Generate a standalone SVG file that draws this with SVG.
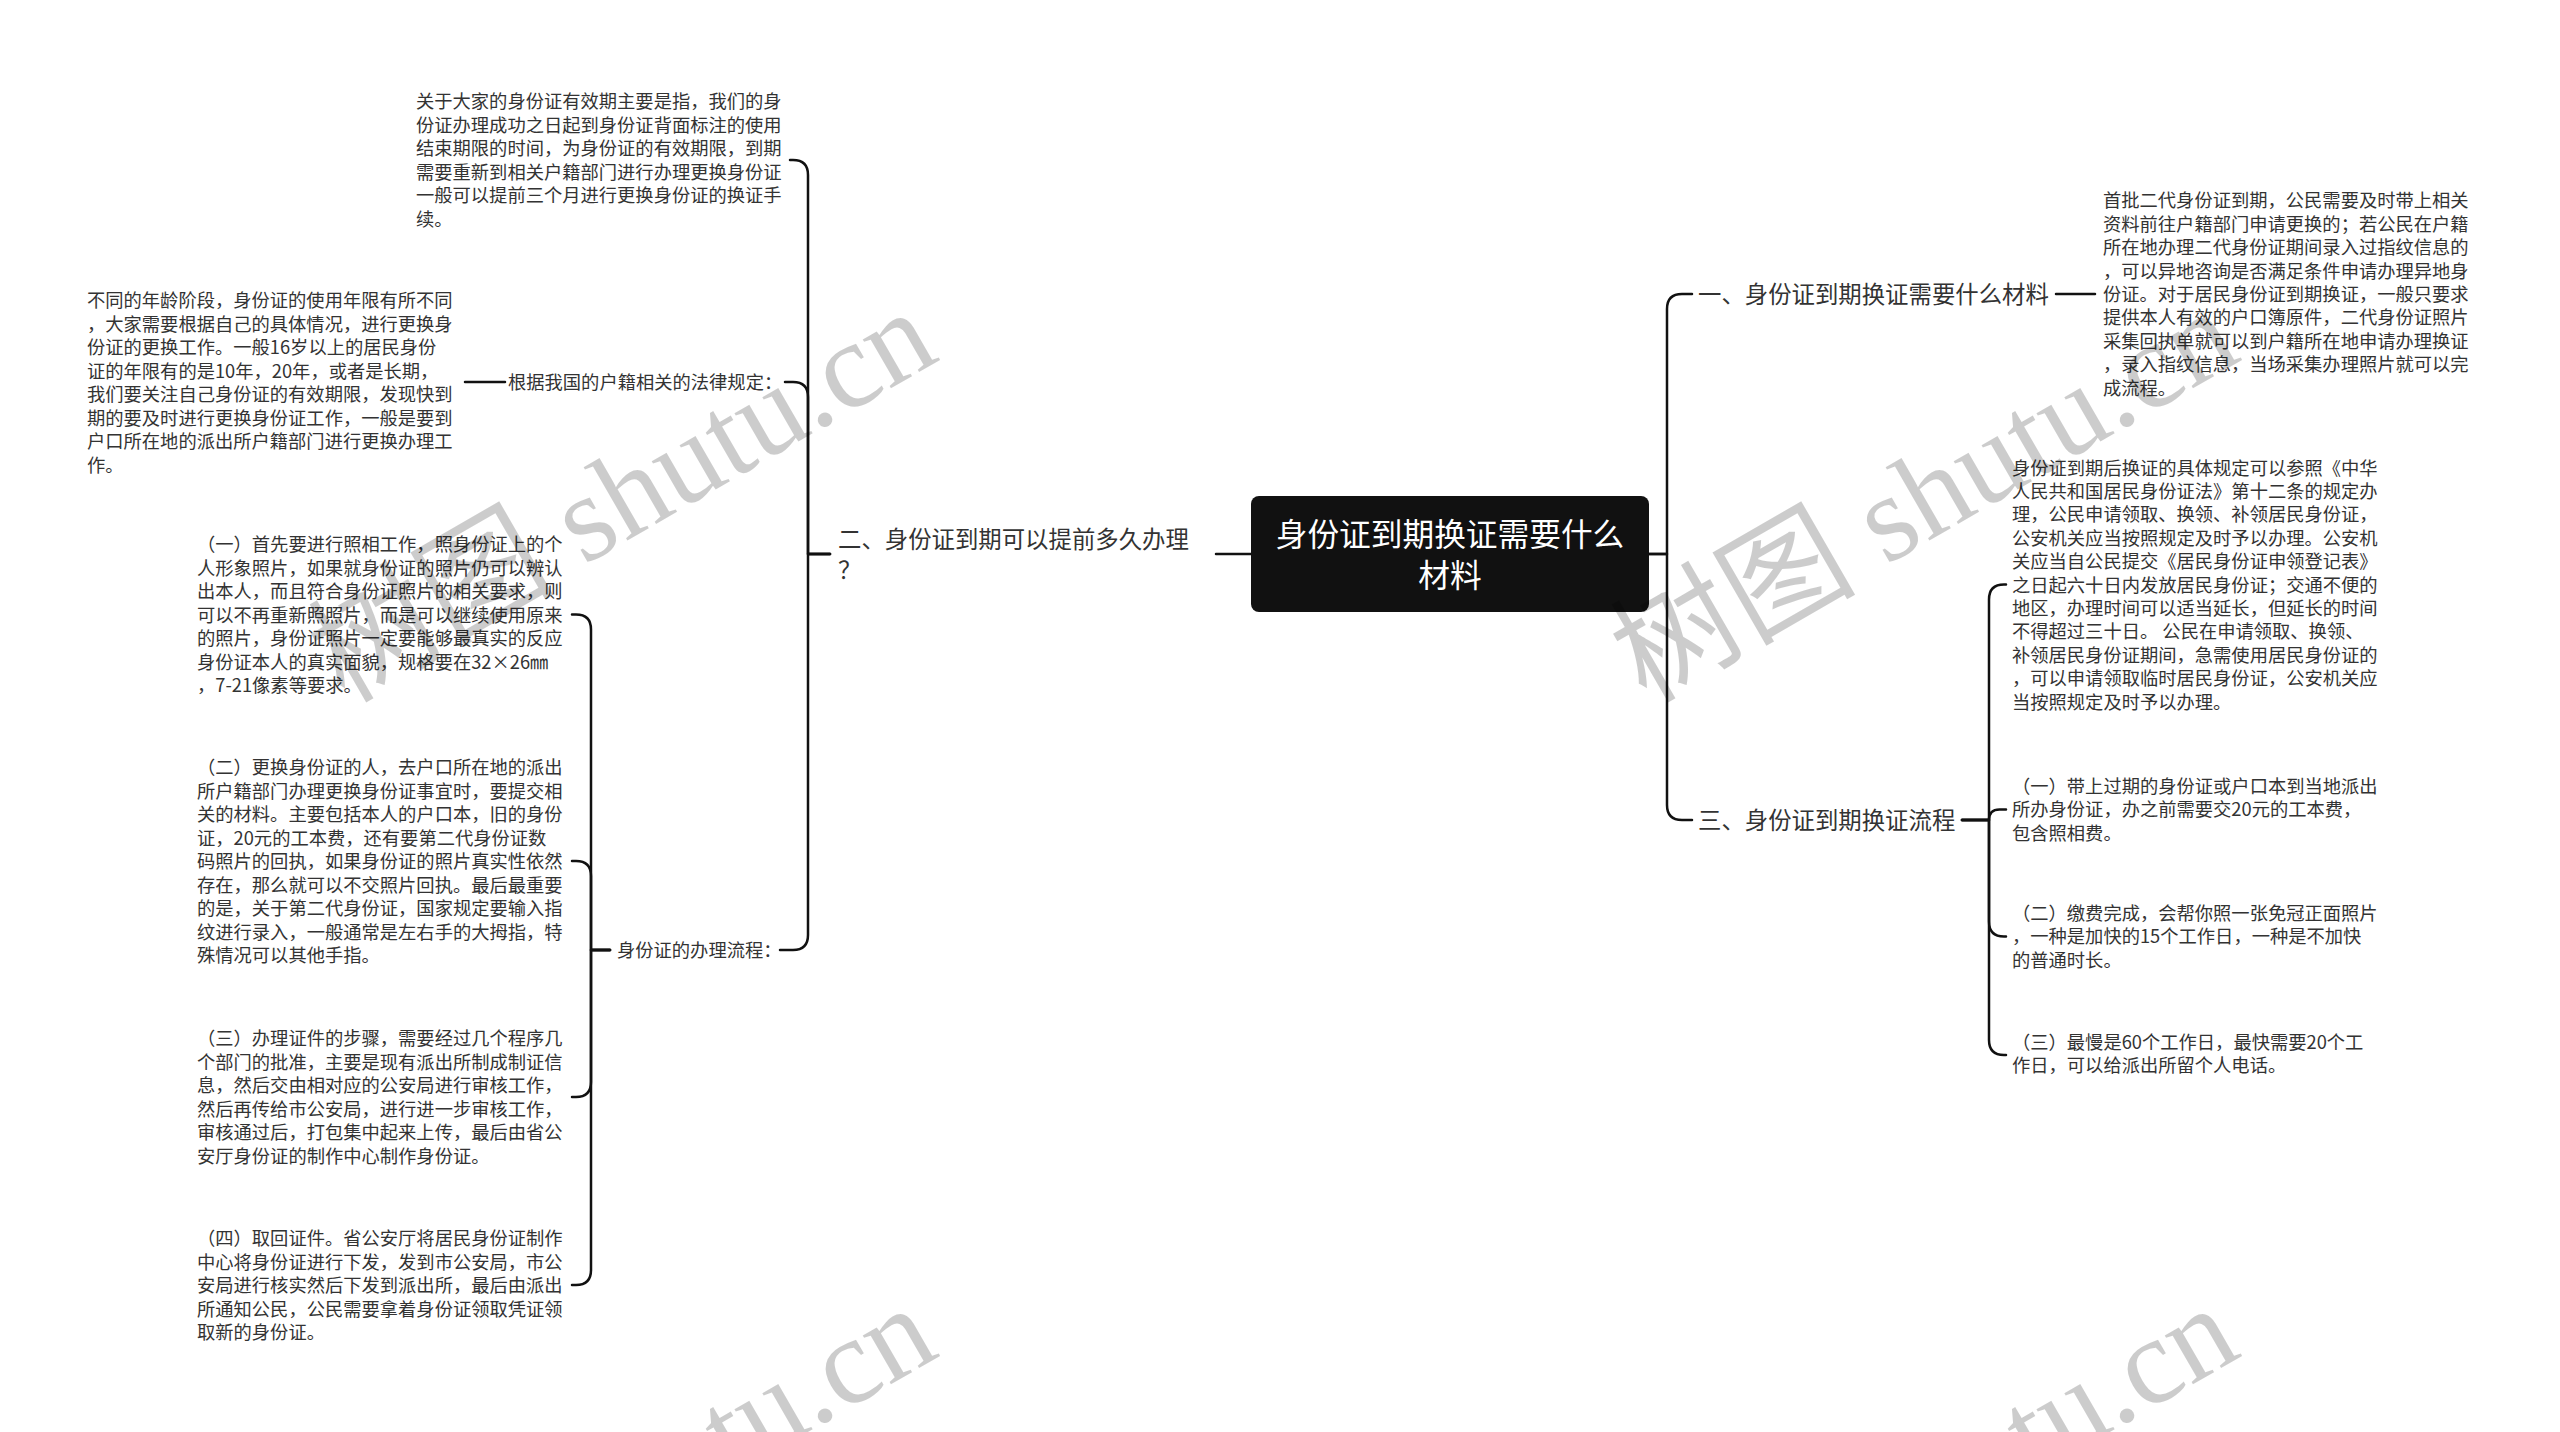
<svg xmlns="http://www.w3.org/2000/svg" width="2560" height="1432" viewBox="0 0 2560 1432">
<style>
.t{font-family:"Noto Sans CJK SC","Liberation Sans",sans-serif;font-size:18.3px;fill:#333}
.l{font-family:"Noto Sans CJK SC","Liberation Sans",sans-serif;font-size:23.4px;fill:#333}
.c{stroke:#111;stroke-width:2.5;fill:none;stroke-linecap:round;stroke-linejoin:round}
.wm{font-family:"Liberation Serif","Noto Sans CJK SC",serif;font-size:123px;fill:#000;fill-opacity:0.2}
</style>
<rect width="2560" height="1432" fill="#fff"/>
<g id="connectors">
<path class="c" d="M1251 554H1216"/>
<path class="c" d="M830 554H808V175Q808 160 793 160H790"/>
<path class="c" d="M830 554H808V397Q808 382 793 382H785"/>
<path class="c" d="M830 554H808V935Q808 950 793 950H780"/>
<path class="c" d="M505 382H465"/>
<path class="c" d="M610 950H591V629.5Q591 614.5 576 614.5H572"/>
<path class="c" d="M610 950H591V876Q591 861 576 861H572"/>
<path class="c" d="M610 950H591V1082Q591 1097 576 1097H572"/>
<path class="c" d="M610 950H591V1270Q591 1285 576 1285H572"/>
<path class="c" d="M1649 554H1667V309Q1667 294 1682 294H1692"/>
<path class="c" d="M1649 554H1667V805Q1667 820 1682 820H1692"/>
<path class="c" d="M2056 294H2095"/>
<path class="c" d="M1962 820H1989V599.5Q1989 584.5 2004 584.5H2006"/>
<path class="c" d="M1962 820H1989Q1989 809.5 1999.5 809.5H2006"/>
<path class="c" d="M1962 820H1989V921.5Q1989 936.5 2004 936.5H2006"/>
<path class="c" d="M1962 820H1989V1040Q1989 1055 2004 1055H2006"/>
</g>
<g id="root">
<rect x="1251" y="496" width="398" height="116" rx="8" fill="#111"/>
<text x="1450" y="546" text-anchor="middle" style="font-family:'Noto Sans CJK SC',sans-serif;font-size:31.7px;fill:#fff">身份证到期换证需要什么</text>
<text x="1450" y="587" text-anchor="middle" style="font-family:'Noto Sans CJK SC',sans-serif;font-size:31.7px;fill:#fff">材料</text>
</g>
<g id="n-left">
<text class="l" x="838" y="548">二、身份证到期可以提前多久办理</text>
<text class="l" x="838" y="579">？</text>
</g>
<g id="n-left-a">
<text class="t" x="416" y="108"><tspan x="416">关于大家的身份证有效期主要是指，我们的身</tspan><tspan x="416" dy="23.5">份证办理成功之日起到身份证背面标注的使用</tspan><tspan x="416" dy="23.5">结束期限的时间，为身份证的有效期限，到期</tspan><tspan x="416" dy="23.5">需要重新到相关户籍部门进行办理更换身份证</tspan><tspan x="416" dy="23.5">一般可以提前三个月进行更换身份证的换证手</tspan><tspan x="416" dy="23.5">续。</tspan></text>
</g>
<g id="n-left-law">
<text class="t" x="508" y="389">根据我国的户籍相关的法律规定：</text>
</g>
<g id="n-left-law-text">
<text class="t" x="87" y="307"><tspan x="87">不同的年龄阶段，身份证的使用年限有所不同</tspan><tspan x="87" dy="23.5">，大家需要根据自己的具体情况，进行更换身</tspan><tspan x="87" dy="23.5">份证的更换工作。一般16岁以上的居民身份</tspan><tspan x="87" dy="23.5">证的年限有的是10年，20年，或者是长期，</tspan><tspan x="87" dy="23.5">我们要关注自己身份证的有效期限，发现快到</tspan><tspan x="87" dy="23.5">期的要及时进行更换身份证工作，一般是要到</tspan><tspan x="87" dy="23.5">户口所在地的派出所户籍部门进行更换办理工</tspan><tspan x="87" dy="23.5">作。</tspan></text>
</g>
<g id="n-left-flow">
<text class="t" x="617" y="957">身份证的办理流程：</text>
</g>
<g id="n-left-flow-1">
<text class="t" x="197" y="551"><tspan x="197">（一）首先要进行照相工作，照身份证上的个</tspan><tspan x="197" dy="23.5">人形象照片，如果就身份证的照片仍可以辨认</tspan><tspan x="197" dy="23.5">出本人，而且符合身份证照片的相关要求，则</tspan><tspan x="197" dy="23.5">可以不再重新照照片，而是可以继续使用原来</tspan><tspan x="197" dy="23.5">的照片，身份证照片一定要能够最真实的反应</tspan><tspan x="197" dy="23.5">身份证本人的真实面貌，规格要在32×26㎜</tspan><tspan x="197" dy="23.5">，7-21像素等要求。</tspan></text>
</g>
<g id="n-left-flow-2">
<text class="t" x="197" y="774"><tspan x="197">（二）更换身份证的人，去户口所在地的派出</tspan><tspan x="197" dy="23.5">所户籍部门办理更换身份证事宜时，要提交相</tspan><tspan x="197" dy="23.5">关的材料。主要包括本人的户口本，旧的身份</tspan><tspan x="197" dy="23.5">证，20元的工本费，还有要第二代身份证数</tspan><tspan x="197" dy="23.5">码照片的回执，如果身份证的照片真实性依然</tspan><tspan x="197" dy="23.5">存在，那么就可以不交照片回执。最后最重要</tspan><tspan x="197" dy="23.5">的是，关于第二代身份证，国家规定要输入指</tspan><tspan x="197" dy="23.5">纹进行录入，一般通常是左右手的大拇指，特</tspan><tspan x="197" dy="23.5">殊情况可以其他手指。</tspan></text>
</g>
<g id="n-left-flow-3">
<text class="t" x="197" y="1045"><tspan x="197">（三）办理证件的步骤，需要经过几个程序几</tspan><tspan x="197" dy="23.5">个部门的批准，主要是现有派出所制成制证信</tspan><tspan x="197" dy="23.5">息，然后交由相对应的公安局进行审核工作，</tspan><tspan x="197" dy="23.5">然后再传给市公安局，进行进一步审核工作，</tspan><tspan x="197" dy="23.5">审核通过后，打包集中起来上传，最后由省公</tspan><tspan x="197" dy="23.5">安厅身份证的制作中心制作身份证。</tspan></text>
</g>
<g id="n-left-flow-4">
<text class="t" x="197" y="1245"><tspan x="197">（四）取回证件。省公安厅将居民身份证制作</tspan><tspan x="197" dy="23.5">中心将身份证进行下发，发到市公安局，市公</tspan><tspan x="197" dy="23.5">安局进行核实然后下发到派出所，最后由派出</tspan><tspan x="197" dy="23.5">所通知公民，公民需要拿着身份证领取凭证领</tspan><tspan x="197" dy="23.5">取新的身份证。</tspan></text>
</g>
<g id="n-right-1">
<text class="l" x="1698" y="303">一、身份证到期换证需要什么材料</text>
</g>
<g id="n-right-1-text">
<text class="t" x="2103" y="207.4"><tspan x="2103">首批二代身份证到期，公民需要及时带上相关</tspan><tspan x="2103" dy="23.4">资料前往户籍部门申请更换的；若公民在户籍</tspan><tspan x="2103" dy="23.4">所在地办理二代身份证期间录入过指纹信息的</tspan><tspan x="2103" dy="23.4">，可以异地咨询是否满足条件申请办理异地身</tspan><tspan x="2103" dy="23.4">份证。对于居民身份证到期换证，一般只要求</tspan><tspan x="2103" dy="23.4">提供本人有效的户口簿原件，二代身份证照片</tspan><tspan x="2103" dy="23.4">采集回执单就可以到户籍所在地申请办理换证</tspan><tspan x="2103" dy="23.4">，录入指纹信息，当场采集办理照片就可以完</tspan><tspan x="2103" dy="23.4">成流程。</tspan></text>
</g>
<g id="n-right-3">
<text class="l" x="1698" y="829">三、身份证到期换证流程</text>
</g>
<g id="n-right-3-law">
<text class="t" x="2012" y="474.5"><tspan x="2012">身份证到期后换证的具体规定可以参照《中华</tspan><tspan x="2012" dy="23.4">人民共和国居民身份证法》第十二条的规定办</tspan><tspan x="2012" dy="23.4">理，公民申请领取、换领、补领居民身份证，</tspan><tspan x="2012" dy="23.4">公安机关应当按照规定及时予以办理。公安机</tspan><tspan x="2012" dy="23.4">关应当自公民提交《居民身份证申领登记表》</tspan><tspan x="2012" dy="23.4">之日起六十日内发放居民身份证；交通不便的</tspan><tspan x="2012" dy="23.4">地区，办理时间可以适当延长，但延长的时间</tspan><tspan x="2012" dy="23.4">不得超过三十日。 公民在申请领取、换领、</tspan><tspan x="2012" dy="23.4">补领居民身份证期间，急需使用居民身份证的</tspan><tspan x="2012" dy="23.4">，可以申请领取临时居民身份证，公安机关应</tspan><tspan x="2012" dy="23.4">当按照规定及时予以办理。</tspan></text>
</g>
<g id="n-right-3-1">
<text class="t" x="2012" y="793"><tspan x="2012">（一）带上过期的身份证或户口本到当地派出</tspan><tspan x="2012" dy="23.4">所办身份证，办之前需要交20元的工本费，</tspan><tspan x="2012" dy="23.4">包含照相费。</tspan></text>
</g>
<g id="n-right-3-2">
<text class="t" x="2012" y="920"><tspan x="2012">（二）缴费完成，会帮你照一张免冠正面照片</tspan><tspan x="2012" dy="23.4">，一种是加快的15个工作日，一种是不加快</tspan><tspan x="2012" dy="23.4">的普通时长。</tspan></text>
</g>
<g id="n-right-3-3">
<text class="t" x="2012" y="1049"><tspan x="2012">（三）最慢是60个工作日，最快需要20个工</tspan><tspan x="2012" dy="23.4">作日，可以给派出所留个人电话。</tspan></text>
</g>
<g id="watermark">
<text class="wm" x="344" y="704" transform="rotate(-30 344 704)">树图 shutu.cn</text>
<text class="wm" x="1646" y="704" transform="rotate(-30 1646 704)">树图 shutu.cn</text>
<text class="wm" x="344" y="1700" transform="rotate(-30 344 1700)">树图 shutu.cn</text>
<text class="wm" x="1646" y="1700" transform="rotate(-30 1646 1700)">树图 shutu.cn</text>
</g>
</svg>
